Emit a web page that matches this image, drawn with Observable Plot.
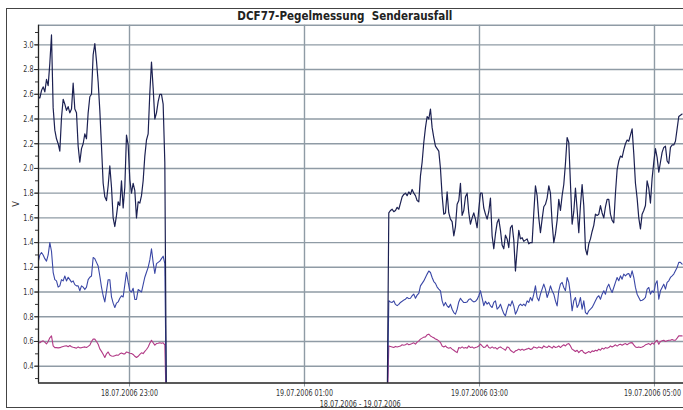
<!DOCTYPE html>
<html><head><meta charset="utf-8">
<script src="https://cdn.jsdelivr.net/npm/d3@7"></script>
<script src="https://cdn.jsdelivr.net/npm/@observablehq/plot@0.6"></script>
<style>
body{margin:0;background:#fff;}
#wrap{position:relative;width:683px;height:410px;overflow:hidden;background:#fff;font-family:"Liberation Sans Narrow","DejaVu Sans Condensed","Liberation Sans",sans-serif;}
#frame{position:absolute;left:6px;top:8px;width:720px;height:400px;border:1px solid #444;box-sizing:border-box;}
#title{position:absolute;top:9px;left:0;width:690px;text-align:center;font-weight:bold;font-size:12px;color:#222;}
#chart{position:absolute;left:0;top:20px;}
#xlabel{position:absolute;top:398px;left:38px;width:645px;text-align:center;font-size:9.5px;color:#333;}
.sq{display:inline-block;transform-origin:50% 50%;white-space:nowrap;}
</style></head>
<body>
<div id="wrap">
  <div id="frame"></div>
  <div id="title"><span class="sq" id="titleText">DCF77-Pegelmessung&nbsp; Senderausfall</span></div>
  <div id="chart"></div>
  <div id="xlabel"><span class="sq" id="xlabelText">18.07.2006 - 19.07.2006</span></div>
</div>
<script>
// sample interval of the logger and start of each recording segment (UTC)
const sampleSeconds = 68.57;
const leftStart = "2006-07-18T21:57:22Z";
const rightStart = "2006-07-19T01:56:40Z";

const xTickLabels = ["2006-07-18T23:00:00Z", "2006-07-19T01:00:00Z", "2006-07-19T03:00:00Z", "2006-07-19T05:00:00Z"];
const xDomain = ["2006-07-18T21:57:36Z", "2006-07-19T05:19:54Z"];
const yDomain = [0.264, 3.159];
const yTickLabels = [0.4, 0.6, 0.8, 1.0, 1.2, 1.4, 1.6, 1.8, 2.0, 2.2, 2.4, 2.6, 2.8, 3.0];
const yMinorTicks = [0.3, 0.4, 0.5, 0.6, 0.7, 0.8, 0.9, 1.0, 1.1, 1.2, 1.3, 1.4, 1.5, 1.6, 1.7, 1.8, 1.9, 2.0, 2.1, 2.2, 2.3, 2.4, 2.5, 2.6, 2.7, 2.8, 2.9, 3.0, 3.1];

// navy (upper) series
const navyLeft = [2.58,2.57,2.63,2.66,2.62,2.72,2.67,2.85,3.08,2.49,
 2.31,2.24,2.20,2.14,2.41,2.56,2.52,2.47,2.50,2.45,
 2.48,2.69,2.48,2.45,2.18,2.05,2.16,2.20,2.28,2.24,
 2.45,2.58,2.60,2.92,3.01,2.87,2.70,2.47,2.18,1.88,
 1.77,1.74,1.86,2.02,1.85,1.60,1.53,1.62,1.73,1.70,
 1.90,1.68,1.85,2.27,2.19,1.91,1.80,1.88,1.82,1.60,
 1.73,1.72,1.78,1.90,2.10,2.23,2.28,2.61,2.86,2.65,
 2.40,2.45,2.54,2.60,2.60,2.52,2.05,0];
const navyRight = [0,1.64,1.66,1.67,1.65,1.66,1.685,1.67,1.72,1.77,
 1.79,1.80,1.78,1.81,1.79,1.83,1.80,1.78,1.74,1.73,
 1.94,2.05,2.21,2.33,2.42,2.40,2.48,2.33,2.25,2.18,
 2.16,2.14,2.00,1.78,1.63,1.64,1.81,1.64,1.59,1.57,
 1.455,1.53,1.71,1.74,1.88,1.62,1.66,1.77,1.80,1.64,
 1.55,1.60,1.64,1.59,1.52,1.67,1.80,1.80,1.68,1.63,
 1.59,1.65,1.76,1.455,1.35,1.47,1.56,1.59,1.50,1.38,
 1.35,1.46,1.43,1.36,1.52,1.54,1.42,1.17,1.34,1.50,
 1.43,1.44,1.41,1.42,1.43,1.39,1.40,1.40,1.64,1.86,
 1.78,1.60,1.48,1.59,1.69,1.71,1.76,1.86,1.80,1.56,
 1.40,1.47,1.58,1.75,1.66,1.78,1.87,2.04,2.25,2.21,
 1.88,1.55,1.65,1.84,1.67,1.48,1.70,1.87,1.70,1.35,
 1.30,1.39,1.43,1.49,1.54,1.63,1.62,1.63,1.70,1.64,
 1.60,1.69,1.75,1.75,1.63,1.58,1.56,1.80,1.99,2.06,
 2.10,2.09,2.15,2.20,2.23,2.22,2.27,2.32,2.12,1.88,
 1.76,1.60,1.51,1.63,1.66,1.70,1.90,1.84,1.72,1.92,
 2.05,2.16,2.09,1.97,2.05,2.13,2.17,2.18,2.06,2.04,
 2.17,2.19,2.19,2.22,2.32,2.42,2.43,2.44];

// blue (middle) series
const blueLeft = [1.24,1.30,1.32,1.30,1.27,1.25,1.30,1.40,1.33,1.16,
 1.10,1.09,1.04,1.05,1.10,1.09,1.13,1.09,1.12,1.10,
 1.08,1.09,1.06,1.05,1.05,1.01,1.05,1.04,1.02,1.04,
 1.10,1.12,1.13,1.28,1.27,1.24,1.21,1.13,1.04,0.97,
 0.92,1.01,1.10,1.10,0.96,0.91,0.875,0.91,0.92,0.95,
 0.97,0.96,1.06,1.16,1.08,1.01,1.00,1.03,0.94,0.94,
 1.02,1.01,1.00,1.06,1.12,1.16,1.20,1.26,1.35,1.24,
 1.15,1.23,1.24,1.25,1.27,1.29,1.23,0];
const blueRight = [0,0.929,0.92,0.916,0.929,0.90,0.89,0.90,0.916,0.925,
 0.935,0.942,0.956,0.947,0.95,0.97,0.983,0.95,0.975,0.99,
 1.05,1.07,1.09,1.118,1.145,1.17,1.158,1.118,1.085,1.07,
 1.04,1.024,1.01,0.929,0.888,0.916,0.888,0.875,0.902,0.861,
 0.834,0.821,0.86,0.92,0.95,0.93,0.915,0.915,0.92,0.94,
 0.945,0.93,0.92,0.925,0.94,0.97,1.01,0.95,0.89,0.925,
 0.902,0.916,0.888,0.875,0.916,0.929,0.861,0.875,0.902,0.861,
 0.825,0.807,0.861,0.902,0.888,0.929,0.888,0.821,0.848,0.888,
 0.902,0.89,0.902,0.888,0.929,0.916,0.956,0.929,0.983,1.05,
 0.956,0.929,0.983,1.024,1.064,1.024,0.956,0.996,1.05,1.01,
 0.983,0.929,0.888,1.01,1.064,1.078,1.037,1.01,1.118,1.078,
 0.983,0.848,0.929,0.956,0.875,0.902,0.956,0.861,0.929,0.834,
 0.821,0.848,0.861,0.875,0.902,0.929,0.956,0.97,0.942,0.983,
 1.01,0.983,1.037,1.064,1.024,0.996,1.037,1.078,1.118,1.091,
 1.131,1.104,1.145,1.131,1.145,1.15,1.118,1.172,1.118,1.037,
 0.983,0.956,0.929,0.934,0.942,0.956,1.024,1.037,0.983,1.01,
 0.996,1.064,1.091,0.942,1.01,1.037,1.064,1.024,1.078,1.091,
 1.118,1.131,1.145,1.172,1.199,1.24,1.24,1.226];

// magenta (lower) series
const magentaLeft = [0.59,0.59,0.60,0.605,0.595,0.58,0.60,0.63,0.645,0.565,
 0.55,0.55,0.548,0.55,0.556,0.56,0.563,0.565,0.557,0.567,
 0.557,0.553,0.55,0.546,0.556,0.548,0.55,0.553,0.556,0.551,
 0.56,0.57,0.60,0.619,0.619,0.60,0.578,0.54,0.52,0.497,
 0.47,0.50,0.515,0.49,0.483,0.48,0.485,0.49,0.488,0.50,
 0.506,0.50,0.50,0.515,0.51,0.505,0.503,0.495,0.48,0.47,
 0.48,0.495,0.508,0.502,0.52,0.535,0.555,0.585,0.61,0.59,
 0.57,0.583,0.585,0.589,0.585,0.589,0.573,0];
const magentaRight = [0,0.564,0.56,0.556,0.551,0.56,0.556,0.56,0.564,0.573,
 0.57,0.573,0.583,0.573,0.578,0.583,0.589,0.578,0.595,0.605,
 0.619,0.627,0.635,0.637,0.654,0.659,0.645,0.637,0.63,0.62,
 0.615,0.605,0.591,0.564,0.556,0.564,0.551,0.546,0.551,0.538,
 0.529,0.519,0.51,0.551,0.546,0.556,0.546,0.551,0.546,0.564,
 0.551,0.556,0.546,0.551,0.556,0.564,0.578,0.564,0.551,0.556,
 0.573,0.551,0.546,0.556,0.546,0.551,0.538,0.551,0.556,0.546,
 0.538,0.529,0.556,0.551,0.529,0.519,0.51,0.524,0.529,0.538,
 0.529,0.538,0.529,0.535,0.54,0.546,0.535,0.54,0.556,0.551,
 0.546,0.556,0.551,0.546,0.564,0.556,0.551,0.564,0.556,0.546,
 0.562,0.551,0.556,0.564,0.551,0.564,0.573,0.564,0.578,0.583,
 0.564,0.538,0.529,0.519,0.529,0.51,0.524,0.529,0.51,0.502,
 0.51,0.519,0.51,0.524,0.519,0.529,0.524,0.538,0.529,0.546,
 0.538,0.551,0.546,0.551,0.564,0.556,0.564,0.573,0.562,0.573,
 0.578,0.57,0.578,0.583,0.573,0.583,0.589,0.591,0.573,0.556,
 0.551,0.556,0.551,0.556,0.562,0.573,0.578,0.583,0.573,0.589,
 0.578,0.60,0.61,0.578,0.60,0.605,0.61,0.60,0.605,0.61,
 0.61,0.616,0.61,0.61,0.627,0.645,0.645,0.645];

const colors = {navy: "#1c2152", blue: "#3a47a6", magenta: "#b23a86"};

function rows(start, values, seg) {
  const t0 = new Date(start).getTime();
  return values.map((v, i) => ({t: new Date(t0 + i * sampleSeconds * 1000), v, seg}));
}
const navy = rows(leftStart, navyLeft, "a").concat(rows(rightStart, navyRight, "b"));
const blue = rows(leftStart, blueLeft, "a").concat(rows(rightStart, blueRight, "b"));
const magenta = rows(leftStart, magentaLeft, "a").concat(rows(rightStart, magentaRight, "b"));

const xTicks = xTickLabels.map(s => new Date(s));
const xDom = xDomain.map(s => new Date(s));
const gridColor = "#8f9ba5";
const fmt = d3.utcFormat("%d.%m.%Y %H:%M");

const chart = Plot.plot({
  width: 683, height: 380,
  marginTop: 4.7, marginBottom: 17.5, marginLeft: 38, marginRight: 0,
  style: {fontFamily: '"Liberation Sans Narrow","DejaVu Sans Condensed","Liberation Sans",sans-serif', fontSize: "9px", color: "#333", background: "transparent", overflow: "visible"},
  x: {type: "utc", domain: xDom},
  y: {domain: yDomain},
  marks: [
    Plot.gridY(yTickLabels, {stroke: gridColor, strokeOpacity: 1, strokeWidth: 1.4}),
    Plot.gridX(xTicks, {stroke: gridColor, strokeOpacity: 1, strokeWidth: 1.4}),
    Plot.ruleY([yDomain[1]], {stroke: gridColor, strokeWidth: 1.4}),
    Plot.line(magenta, {x: "t", y: "v", z: "seg", stroke: colors.magenta, strokeWidth: 1.1, clip: true}),
    Plot.line(blue, {x: "t", y: "v", z: "seg", stroke: colors.blue, strokeWidth: 1.1, clip: true}),
    Plot.line(navy, {x: "t", y: "v", z: "seg", stroke: colors.navy, strokeWidth: 1.2, clip: true}),
    Plot.axisX(xTicks, {tickSize: 4, tickPadding: 3, tickFormat: fmt, stroke: gridColor, label: null}),
    Plot.axisY(yMinorTicks, {tickSize: 3, tickFormat: () => "", label: null}),
    Plot.axisY(yTickLabels, {tickSize: 4, tickPadding: 1, tickFormat: d => d.toFixed(1), label: "V", labelAnchor: "center", labelArrow: "none", labelOffset: 26}),
    Plot.ruleX([xDom[0]], {stroke: "#222", strokeWidth: 1.3}),
    Plot.ruleY([yDomain[0]], {stroke: "#222", strokeWidth: 1.6})
  ]
});
document.getElementById("chart").appendChild(chart);

// emulate the narrow typeface of the original: squeeze tick texts horizontally around their anchor
const xLabelNodes = Array.from(chart.querySelectorAll('g[aria-label="x-axis tick label"] text'));
let factor = 0.8;
if (xLabelNodes.length) {
  const w = xLabelNodes[0].getComputedTextLength();
  if (w > 0) factor = Math.min(1, 57 / w);
}
function squeezeText(t, extraDx) {
  const tr = t.getAttribute("transform");
  if (tr) {
    t.setAttribute("transform", `${tr} translate(${extraDx},0) scale(${factor},1)`);
  } else {
    const x = +t.getAttribute("x") || 0, y = +t.getAttribute("y") || 0;
    t.setAttribute("transform", `translate(${x + extraDx},${y}) scale(${factor},1) translate(${-x},${-y})`);
  }
}
xLabelNodes.forEach((t, i) => squeezeText(t, i === xLabelNodes.length - 1 ? -2 : 0));
chart.querySelectorAll('g[aria-label="y-axis tick label"] text').forEach(t => squeezeText(t, 0));

function squeeze(id, target) {
  const el = document.getElementById(id);
  const w = el.getBoundingClientRect().width;
  if (w > 0) el.style.transform = `scaleX(${Math.min(1, target / w)})`;
}
squeeze("titleText", 215);
squeeze("xlabelText", 81);
</script>
</body></html>
